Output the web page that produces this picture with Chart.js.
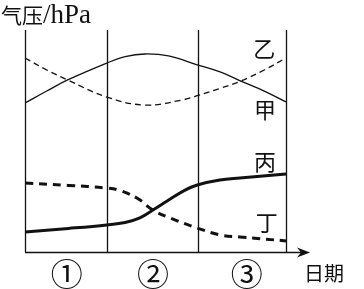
<!DOCTYPE html>
<html>
<head>
<meta charset="utf-8">
<script src="https://cdn.jsdelivr.net/npm/chart.js@4"></script>
<style>
  html, body { margin: 0; padding: 0; background: #fff; }
  #wrap { width: 364px; height: 289px; position: relative; }
</style>
</head>
<body>
<div id="wrap"><canvas id="chart"></canvas></div>
<script>
// Period boundaries (days) and labels
const periodBounds = [0, 0.94, 1.99, 3];
const periodLabels = ['①', '②', '③'];
const periodLabelX = [0.48, 1.47, 2.55];

// 甲 (thin solid)
const jiaX = [0, 0.25, 0.49, 0.94, 1.15, 1.38, 1.65, 1.99, 2.25, 2.48, 2.75, 3];
const jiaY = [67.1, 72.5, 77.5, 85.1, 88.0, 89.2, 88.3, 84.2, 81.0, 77.0, 72.5, 67.6];

// 乙 (thin dashed)
const yiX = [0, 0.25, 0.49, 0.94, 1.38, 1.81, 1.99, 2.25, 2.48, 2.75, 3];
const yiY = [87.4, 82.0, 77.5, 69.8, 66.2, 68.5, 70.5, 73.8, 77.0, 82.0, 87.4];

// 丙 (thick solid)
const bingX = [0, 0.5, 0.94, 1.15, 1.32, 1.47, 1.67, 1.84, 1.98, 2.24, 2.47, 3];
const bingY = [9.0, 10.6, 12.2, 13.3, 15.4, 18.9, 23.9, 27.9, 30.2, 32.4, 33.3, 35.1];

// 丁 (thick dashed)
const dingX = [0, 0.5, 0.94, 1.1, 1.3, 1.47, 1.67, 1.98, 2.24, 2.47, 3];
const dingY = [31.1, 30.0, 28.8, 27.6, 24.0, 18.9, 15.3, 10.8, 7.7, 6.8, 5.0];

// series labels placed on the chart
const seriesNames = ['乙', '甲', '丙', '丁'];
const seriesNameX = [2.75, 2.76, 2.76, 2.78];
const seriesNameY = [91.5, 64.0, 40.5, 13.0];

const pts = (xs, ys) => xs.map((x, i) => ({ x: x, y: ys[i] }));

const frame = {
  id: 'frame',
  afterDraw(chart) {
    const ctx = chart.ctx;
    const xs = chart.scales.x, ys = chart.scales.y;
    const top = chart.chartArea.top, bottom = chart.chartArea.bottom;
    ctx.save();
    ctx.strokeStyle = '#111';
    ctx.fillStyle = '#111';
    ctx.lineWidth = 1.3;

    // vertical period lines
    periodBounds.forEach(b => {
      const px = Math.round(xs.getPixelForValue(b)) + 0.5;
      ctx.beginPath();
      ctx.moveTo(px, top);
      ctx.lineTo(px, bottom);
      ctx.stroke();
    });

    // x axis with arrow
    const x0 = xs.getPixelForValue(0);
    const tip = chart.chartArea.right;
    const by = Math.round(bottom) + 0.5;
    ctx.beginPath();
    ctx.moveTo(x0, by);
    ctx.lineTo(tip - 6, by);
    ctx.stroke();
    ctx.beginPath();
    ctx.moveTo(tip, by);
    ctx.lineTo(tip - 13, by - 5);
    ctx.lineTo(tip - 9, by);
    ctx.lineTo(tip - 13, by + 5);
    ctx.closePath();
    ctx.fill();

    // period labels
    ctx.textAlign = 'center';
    ctx.textBaseline = 'middle';
    ctx.font = '32px "Noto Sans CJK SC"';
    periodLabels.forEach((t, i) => {
      ctx.fillText(t, xs.getPixelForValue(periodLabelX[i]), by + 21);
    });

    // series names
    ctx.font = '22px "Noto Sans CJK SC"';
    seriesNames.forEach((t, i) => {
      ctx.fillText(t, xs.getPixelForValue(seriesNameX[i]), ys.getPixelForValue(seriesNameY[i]));
    });

    // axis titles
    ctx.font = '20px "Noto Sans CJK SC"';
    ctx.textAlign = 'left';
    ctx.fillText('日期', 304, by + 21);

    ctx.textBaseline = 'alphabetic';
    ctx.font = '21px "Noto Sans CJK SC"';
    ctx.fillText('气压', 1, 23);
    ctx.font = '27px "Liberation Serif"';
    ctx.fillText('/hPa', 43, 23);
    ctx.restore();
  }
};

const thin = { borderColor: '#111', borderWidth: 1.3, pointRadius: 0, tension: 0.4, fill: false };
const thick = { borderColor: '#111', borderWidth: 3, pointRadius: 0, tension: 0.4, fill: false };

new Chart(document.getElementById('chart'), {
  type: 'line',
  data: {
    datasets: [
      Object.assign({ label: '甲', data: pts(jiaX, jiaY) }, thin),
      Object.assign({ label: '乙', data: pts(yiX, yiY), borderDash: [6, 4] }, thin),
      Object.assign({ label: '丙', data: pts(bingX, bingY) }, thick),
      Object.assign({ label: '丁', data: pts(dingX, dingY), borderDash: [8, 6] }, thick)
    ]
  },
  options: {
    responsive: true,
    maintainAspectRatio: false,
    animation: false,
    layout: { padding: { left: 25, right: 54, top: 30, bottom: 37 } },
    scales: {
      x: { type: 'linear', min: 0, max: 3.276, display: false },
      y: { min: 0, max: 100, display: false }
    },
    plugins: { legend: { display: false }, tooltip: { enabled: false } }
  },
  plugins: [frame]
});
</script>
</body>
</html>
